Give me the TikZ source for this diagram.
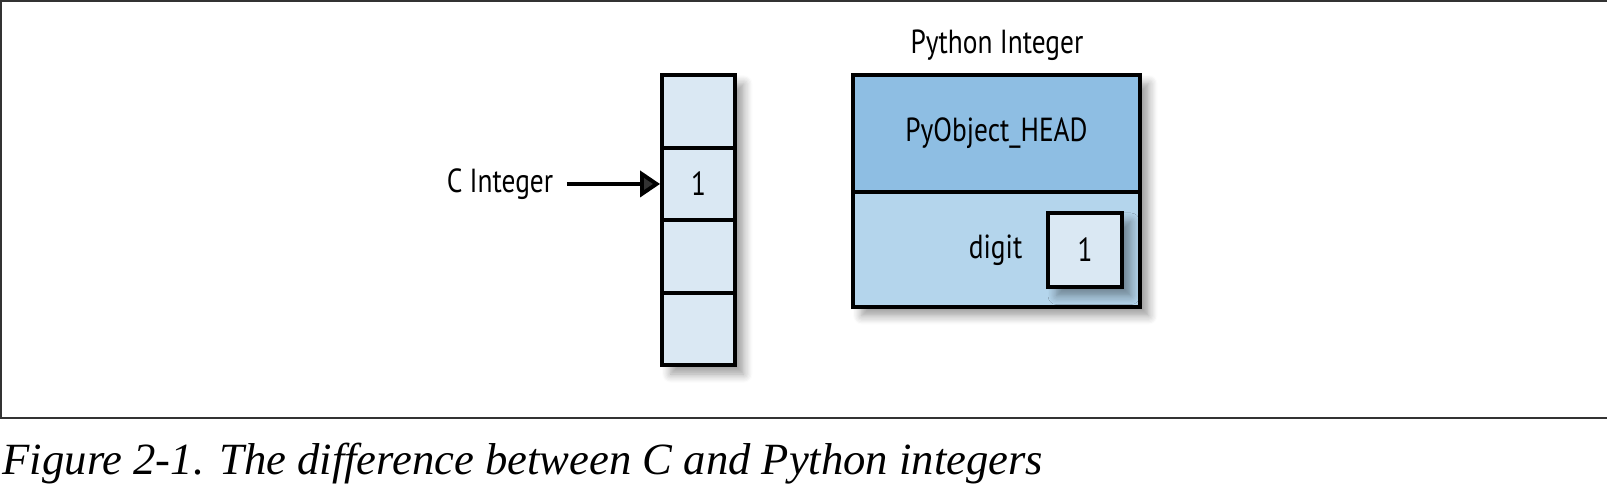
\documentclass[tikz,border=0pt]{standalone}
\usepackage{fontspec}
\usetikzlibrary{arrows.meta, positioning, shadows.blur}
\newfontfamily\diagfont[FakeStretch=0.82]{PT Sans}
\newfontfamily\capfont{Liberation Serif}
\definecolor{cellblue}{RGB}{218,232,243}
\definecolor{headblue}{RGB}{142,190,227}
\definecolor{bodyblue}{RGB}{180,213,236}

\tikzset{
	boxshadow/.style={blur shadow={shadow xshift=2.5pt, shadow yshift=-2.5pt, shadow blur steps=8, shadow blur radius=2.5pt, shadow opacity=40}},
	cell/.style={draw, line width=1.1pt, fill=cellblue, minimum width=0.73cm, minimum height=0.725cm, inner sep=0pt},
	part/.style={draw, line width=1.1pt, minimum width=2.87cm, inner sep=0pt, outer sep=0pt},
	lbl/.style={font=\diagfont\fontsize{9.5}{11}\selectfont, inner sep=0pt},
}

\begin{document}
\begin{tikzpicture}
	\useasboundingbox (0, 0) rectangle (16.07, 4.95);
	% Frame:
	\draw[line width=0.6pt, black!80] (16.2, 4.94) -| (0.01, 0.77) -- (16.2, 0.77);

	% C integer: column of cells
	\fill[cellblue, boxshadow] (6.62, 1.2975) rectangle (7.35, 4.1975);
	\foreach \i/\y in {1/3.835, 2/3.11, 3/2.385, 4/1.66}
		\node[cell] (c\i) at (6.985, \y) {};
	\node[lbl] (one) at (c2) {1};
	\node[lbl] (cint) at (5.00, 3.11) {C Integer};
	\draw[line width=1.1pt, -{Triangle[length=0.2cm, width=0.26cm]}] (cint.east) ++(0.13, 0) coordinate (cstart) -- (cstart -| c2.west);

	% Python integer: object with header and digit
	\node[lbl] (pytitle) at (9.97, 4.50) {Python Integer};
	\node[fill=bodyblue, minimum width=2.87cm, minimum height=2.32cm, inner sep=0pt, outer sep=0pt, anchor=north, boxshadow] (pyobj) at (9.965, 4.20) {};
	\node[part, fill=bodyblue, minimum height=1.15cm, anchor=north] (pybody) at (9.965, 3.03) {};
	\node[part, fill=headblue, minimum height=1.17cm, anchor=south] (pyhead) at (9.965, 3.03) {};
	\node[lbl] (headtext) at (pyhead) {PyObject\_HEAD};
	\node[cell, minimum width=0.74cm, minimum height=0.74cm, boxshadow] (digitbox) at (10.85, 2.45) {};
	\node[lbl] (digitone) at (digitbox) {1};
	\node[lbl, anchor=east] (digit) at (10.23, 2.45) {digit};

	% Caption:
	\node[anchor=base west, inner sep=0pt, font=\capfont\fontsize{12.7}{14}\selectfont\itshape] (caption) at (0.02, 0.20) {Figure 2-1. The difference between C and Python integers};
\end{tikzpicture}
\end{document}
